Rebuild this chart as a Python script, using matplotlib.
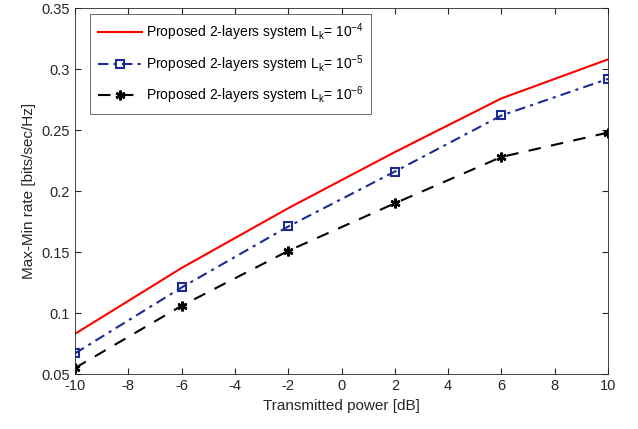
import matplotlib
matplotlib.use("Agg")
import matplotlib.pyplot as plt

plt.rcParams['font.family'] = ['Liberation Sans', 'DejaVu Sans']

power_db = [-10, -6, -2, 2, 6, 10]
rate_lk4 = [0.083, 0.137, 0.186, 0.232, 0.276, 0.308]
rate_lk5 = [0.067, 0.121, 0.171, 0.216, 0.262, 0.292]
rate_lk6 = [0.055, 0.106, 0.151, 0.190, 0.228, 0.248]
x_ticks = list(range(-10, 11, 2))
y_ticks = [0.05, 0.1, 0.15, 0.2, 0.25, 0.3, 0.35]

fig = plt.figure(figsize=(6.38, 4.29), dpi=100)
ax = fig.add_axes([0.1176, 0.128, 0.8354, 0.853])

ax.plot(power_db, rate_lk4, color='#ff0000', lw=1.5,
        label=r'Proposed 2-layers system L$_\mathregular{k}$= 10$^{\mathregular{-4}}$')
ax.plot(power_db, rate_lk5, color='#1c2a94', lw=1.5, ls=(0, (5, 2.5, 1.5, 2.5)), marker='s',
        ms=6, mfc='none', mec='#1c2a94', mew=1.5,
        label=r'Proposed 2-layers system L$_\mathregular{k}$= 10$^{\mathregular{-5}}$')
ax.plot(power_db, rate_lk6, color='black', lw=1.5, ls=(0, (6, 5)), marker=(6, 2, 0),
        ms=7, mew=1.8,
        label=r'Proposed 2-layers system L$_\mathregular{k}$= 10$^{\mathregular{-6}}$')

ax.set_xlim(-10, 10)
ax.set_ylim(0.05, 0.35)
ax.set_xticks(x_ticks)
ax.set_xticklabels([str(t) for t in x_ticks])
ax.set_yticks(y_ticks)
ax.set_yticklabels(['0.05', '0.1', '0.15', '0.2', '0.25', '0.3', '0.35'])
ax.tick_params(direction='in', labelsize=10.5, colors='#262626', length=4, top=True, right=True)
for s in ax.spines.values():
    s.set_color('#262626')
    s.set_linewidth(0.6)

ax.set_xlabel('Transmitted power [dB]', fontsize=11, color='#262626')
ax.set_ylabel('Max-Min rate [bits/sec/Hz]', fontsize=11, color='#262626')

leg = ax.legend(loc='upper left', bbox_to_anchor=(0.028, 0.984), fontsize=10,
                fancybox=False, edgecolor='#262626', handlelength=3.2,
                borderpad=0.55, labelspacing=0.7, handletextpad=0.3, borderaxespad=0)
leg.get_frame().set_linewidth(0.6)

fig.savefig('out.png', dpi=100)
